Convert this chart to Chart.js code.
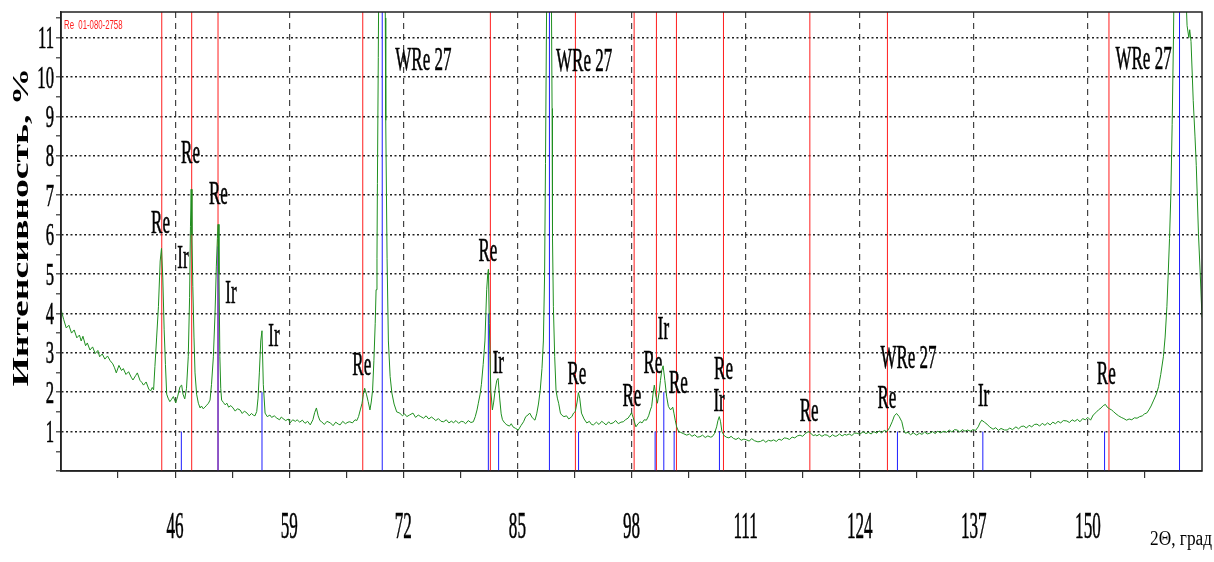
<!DOCTYPE html>
<html>
<head>
<meta charset="utf-8">
<script src="https://cdn.jsdelivr.net/npm/chart.js@4/dist/chart.umd.min.js"></script>
<style>
  html, body { margin: 0; padding: 0; background: #fff; }
  #xrd { display: block; }
</style>
</head>
<body>
<canvas id="xrd" width="1214" height="562"></canvas>
<script>
// measured scan: [2θ, intensity %]
const scanPoints = [
  [33.0,4.10],[33.3,3.85],[33.6,3.63],[33.9,3.70],[34.2,3.50],[34.5,3.58],[34.8,3.38],[35.1,3.45],[35.3,3.30],[35.5,3.42],
  [35.8,3.18],[36.0,3.25],[36.3,3.07],[36.6,3.15],[36.9,2.98],[37.2,3.06],[37.4,2.90],[37.7,2.97],[38.0,2.84],[38.3,2.92],
  [38.6,2.80],[38.9,2.72],[39.1,2.62],[39.3,2.49],[39.6,2.68],[39.9,2.55],[40.1,2.60],[40.4,2.45],[40.7,2.52],[41.0,2.38],
  [41.2,2.31],[41.5,2.42],[41.7,2.49],[42.0,2.30],[42.2,2.25],[42.4,2.18],[42.7,2.26],[43.0,2.08],[43.2,2.03],[43.4,2.12],
  [43.55,2.06],[43.7,2.65],[43.9,3.40],[44.1,4.17],[44.3,5.33],[44.45,5.65],[44.6,4.90],[44.75,3.60],[44.9,2.70],[45.04,1.95],
  [45.2,1.85],[45.4,1.76],[45.6,1.82],[45.8,1.89],[46.07,1.73],[46.3,1.90],[46.56,2.14],[46.75,2.18],[46.9,1.95],[47.1,1.83],
  [47.3,2.10],[47.5,2.90],[47.65,4.40],[47.75,6.20],[47.83,7.15],[47.92,6.00],[48.02,4.68],[48.15,3.40],[48.27,2.49],[48.45,1.95],
  [48.65,1.72],[48.85,1.60],[49.0,1.65],[49.2,1.58],[49.4,1.62],[49.6,1.67],[49.8,1.72],[49.98,1.80],[50.15,2.20],[50.36,2.90],
  [50.55,4.00],[50.7,5.20],[50.82,5.90],[50.9,6.26],[51.0,5.00],[51.1,2.90],[51.2,2.10],[51.3,1.80],[51.5,1.74],[51.7,1.68],
  [51.9,1.72],[52.1,1.62],[52.35,1.66],[52.6,1.60],[52.85,1.52],[53.1,1.58],[53.4,1.55],[53.65,1.46],[53.9,1.52],[54.2,1.47],
  [54.45,1.40],[54.7,1.46],[54.9,1.42],[55.1,1.40],[55.3,1.51],[55.45,1.85],[55.6,2.49],[55.76,3.30],[55.9,3.56],[56.05,2.20],
  [56.25,1.47],[56.5,1.38],[56.8,1.42],[57.0,1.36],[57.3,1.40],[57.6,1.34],[57.9,1.30],[58.1,1.37],[58.3,1.33],[58.6,1.28],
  [58.9,1.32],[59.1,1.22],[59.4,1.30],[59.7,1.26],[59.9,1.30],[60.2,1.24],[60.5,1.29],[60.8,1.21],[61.1,1.26],[61.4,1.17],
  [61.7,1.30],[61.9,1.48],[62.1,1.60],[62.3,1.40],[62.5,1.28],[62.7,1.25],[63.0,1.18],[63.3,1.26],[63.7,1.22],[64.0,1.15],
  [64.3,1.24],[64.6,1.19],[64.8,1.17],[65.1,1.26],[65.4,1.20],[65.7,1.24],[65.9,1.25],[66.2,1.22],[66.5,1.30],[66.7,1.28],
  [66.9,1.38],[67.1,1.55],[67.3,1.72],[67.45,1.95],[67.6,2.10],[67.8,1.95],[68.0,1.76],[68.2,1.55],[68.35,1.75],[68.5,2.05],
  [68.65,2.80],[68.8,3.75],[68.9,4.60],[69.0,5.40],[69.05,7.30],[69.15,10.5],[69.3,16.0],[69.6,30.0],[69.85,16.0],[69.95,11.5],
  [70.0,8.90],[70.15,5.40],[70.3,3.30],[70.5,2.40],[70.7,1.98],[70.95,1.70],[71.25,1.50],[71.6,1.47],[71.9,1.40],[72.15,1.45],
  [72.4,1.38],[72.7,1.42],[73.1,1.47],[73.4,1.36],[73.7,1.42],[74.0,1.38],[74.3,1.34],[74.6,1.40],[74.9,1.32],[75.2,1.37],
  [75.4,1.34],[75.7,1.28],[76.0,1.33],[76.3,1.26],[76.6,1.25],[76.9,1.30],[77.2,1.22],[77.5,1.27],[77.7,1.22],[78.0,1.28],
  [78.3,1.21],[78.6,1.26],[78.85,1.25],[79.1,1.20],[79.4,1.28],[79.7,1.23],[79.98,1.25],[80.2,1.38],[80.4,1.55],[80.55,1.72],
  [80.75,1.95],[80.9,2.20],[81.1,2.70],[81.3,3.30],[81.5,4.60],[81.62,5.00],[81.7,5.12],[81.8,3.75],[81.97,2.05],[82.15,1.55],
  [82.3,1.75],[82.46,2.05],[82.65,2.30],[82.8,2.35],[83.0,1.80],[83.15,1.45],[83.3,1.30],[83.55,1.22],[83.8,1.17],[84.1,1.14],
  [84.3,1.20],[84.5,1.12],[84.8,1.08],[85.1,1.04],[85.4,1.15],[85.7,1.25],[85.95,1.38],[86.2,1.42],[86.4,1.47],[86.7,1.35],
  [87.0,1.29],[87.2,1.45],[87.4,1.70],[87.6,2.05],[87.8,2.60],[87.96,3.30],[88.1,5.00],[88.2,7.80],[88.35,12.5],[88.6,30.0],
  [88.85,13.0],[88.95,9.20],[89.0,5.90],[89.1,4.17],[89.25,2.90],[89.4,2.05],[89.55,1.85],[89.7,1.72],[89.9,1.47],[90.05,1.42],
  [90.3,1.38],[90.6,1.40],[90.85,1.32],[91.2,1.38],[91.4,1.47],[91.6,1.51],[91.8,1.75],[91.95,1.99],[92.1,1.85],[92.3,1.47],
  [92.6,1.32],[92.9,1.22],[93.2,1.26],[93.45,1.18],[93.66,1.17],[94.0,1.24],[94.3,1.18],[94.6,1.26],[94.8,1.23],[95.1,1.17],
  [95.4,1.25],[95.6,1.20],[95.9,1.22],[96.2,1.28],[96.5,1.20],[96.8,1.24],[97.08,1.25],[97.3,1.30],[97.6,1.34],[97.85,1.42],
  [98.0,1.48],[98.2,1.35],[98.5,1.12],[98.75,1.20],[98.98,1.25],[99.2,1.22],[99.45,1.30],[99.7,1.29],[99.95,1.40],[100.15,1.55],
  [100.3,1.64],[100.45,1.95],[100.6,2.18],[100.75,1.95],[100.95,1.72],[101.15,2.00],[101.3,2.30],[101.45,2.55],[101.6,2.67],[101.8,2.30],
  [102.0,1.90],[102.2,1.64],[102.45,1.55],[102.7,1.62],[102.85,1.45],[102.98,1.29],[103.15,1.12],[103.35,1.01],[103.6,0.98],[103.9,0.95],
  [104.3,0.91],[104.6,0.94],[104.9,0.88],[105.2,0.92],[105.5,0.86],[105.8,0.87],[106.1,0.91],[106.4,0.85],[106.7,0.89],[107.0,0.86],
  [107.2,0.87],[107.45,0.95],[107.7,1.12],[107.85,1.28],[108.0,1.38],[108.15,1.25],[108.3,1.00],[108.55,0.90],[108.8,0.86],[109.1,0.84],
  [109.35,0.88],[109.6,0.83],[109.9,0.80],[110.2,0.84],[110.5,0.78],[110.8,0.81],[111.1,0.79],[111.4,0.76],[111.7,0.82],[112.0,0.77],
  [112.4,0.74],[112.7,0.75],[113.0,0.79],[113.3,0.73],[113.6,0.78],[113.9,0.76],[114.2,0.79],[114.5,0.75],[114.8,0.81],[115.1,0.78],
  [115.4,0.84],[115.7,0.83],[116.0,0.80],[116.3,0.86],[116.6,0.84],[116.9,0.89],[117.2,0.91],[117.5,0.88],[117.8,0.95],[118.0,0.98],
  [118.2,1.00],[118.45,0.95],[118.7,0.90],[119.0,0.92],[119.1,0.89],[119.4,0.93],[119.7,0.88],[120.0,0.92],[120.3,0.91],[120.6,0.86],
  [120.9,0.92],[121.2,0.88],[121.4,0.89],[121.7,0.94],[122.0,0.89],[122.3,0.93],[122.5,0.91],[122.8,0.94],[123.1,0.90],[123.4,0.96],
  [123.7,0.96],[124.0,0.93],[124.4,1.00],[124.7,0.95],[125.0,0.98],[125.3,0.94],[125.6,1.00],[125.95,0.96],[126.2,1.02],[126.5,0.97],
  [126.8,1.03],[127.1,1.00],[127.4,1.10],[127.7,1.25],[127.95,1.40],[128.2,1.46],[128.5,1.38],[128.8,1.25],[129.0,1.05],[129.2,0.96],
  [129.5,0.98],[129.8,0.92],[130.1,0.97],[130.5,0.91],[130.8,0.96],[131.1,0.93],[131.4,0.99],[131.7,0.94],[132.0,0.96],[132.3,1.00],
  [132.6,0.95],[132.9,1.01],[133.2,0.97],[133.6,1.01],[133.9,0.98],[134.2,1.04],[134.5,0.99],[134.8,1.05],[135.1,1.04],[135.4,0.99],
  [135.7,1.05],[136.0,1.01],[136.3,1.04],[136.6,1.01],[136.9,1.05],[137.2,1.03],[137.5,1.12],[137.7,1.22],[137.9,1.29],[138.2,1.24],
  [138.5,1.19],[138.8,1.12],[139.2,1.06],[139.5,1.10],[139.8,1.03],[140.1,1.08],[140.5,1.04],[140.8,1.04],[141.1,1.09],[141.4,1.05],
  [141.8,1.12],[142.1,1.07],[142.4,1.13],[142.7,1.14],[143.0,1.09],[143.3,1.16],[143.6,1.12],[143.9,1.18],[144.2,1.19],[144.5,1.14],
  [144.8,1.21],[145.1,1.16],[145.4,1.22],[145.7,1.17],[146.0,1.24],[146.3,1.20],[146.6,1.26],[146.9,1.22],[147.2,1.28],[147.6,1.27],
  [147.9,1.23],[148.2,1.30],[148.5,1.26],[148.8,1.31],[149.1,1.25],[149.4,1.33],[149.7,1.30],[150.0,1.36],[150.3,1.29],[150.6,1.42],
  [150.9,1.48],[151.2,1.55],[151.5,1.60],[151.75,1.66],[152.0,1.69],[152.2,1.62],[152.45,1.58],[152.7,1.55],[152.9,1.51],[153.2,1.45],
  [153.5,1.40],[153.8,1.36],[154.1,1.33],[154.4,1.29],[154.7,1.32],[155.0,1.30],[155.3,1.35],[155.6,1.34],[155.9,1.38],[156.2,1.40],
  [156.45,1.45],[156.7,1.47],[156.95,1.55],[157.2,1.65],[157.5,1.80],[157.8,1.95],[158.05,2.14],[158.3,2.45],[158.6,2.90],[158.8,3.40],
  [159.0,4.17],[159.15,5.00],[159.3,5.90],[159.45,7.00],[159.6,8.80],[159.75,11.0],[159.9,14.0],[160.4,30.0],[160.9,16.0],[161.1,12.5],
  [161.3,11.3],[161.5,11.0],[161.6,11.2],[161.75,10.9],[162.0,9.40],[162.2,8.50],[162.35,7.75],[162.6,6.00],[162.8,5.00],[163.0,3.90]
];

// Re reference card 01-080-2758 (lines run the full height)
const reCardAngles = [44.48, 47.89, 50.89, 67.38, 81.92, 91.61, 98.3, 100.84, 103.12, 108.48, 118.32, 127.16, 152.4];

// blue reference sticks (Ir and the tall WRe lines)
const blueCardAngles  = [46.71, 50.89, 55.9, 69.6, 81.69, 82.86, 88.65, 91.97, 100.69, 101.68, 102.86, 108.02, 128.3, 138.03, 151.9, 160.44];
const blueCardHeights = [1.0,   5.7,   2.0,  100,  4.0,   1.0,   100,   1.0,   1.0,    2.0,    1.0,    1.0,    1.0,   1.0,    1.0,   100];

// phase labels: text, 2θ, intensity at text centre
const labelText  = ['Re', 'Re', 'Re', 'Ir', 'Ir', 'Ir', 'Re', 'WRe 27', 'Re', 'Ir', 'WRe 27', 'Re', 'Re', 'Re', 'Ir', 'Re', 'Re', 'Ir', 'Re', 'WRe 27', 'Re', 'Ir', 'Re', 'WRe 27'];
const labelAngle = [44.34, 47.76, 50.93, 46.90, 52.37, 57.27, 67.27, 74.29, 81.63, 82.83, 92.60, 91.77, 98.04, 100.43, 101.64, 103.35, 108.48, 107.98, 118.24, 129.56, 127.10, 138.11, 152.09, 156.34];
const labelLevel = [6.32, 8.10, 7.06, 5.43, 4.54, 3.45, 2.72, 10.46, 5.61, 2.77, 10.43, 2.49, 1.93, 2.77, 3.63, 2.26, 2.61, 1.80, 1.55, 2.89, 1.88, 1.93, 2.49, 10.48];

const xTickLabels = [46, 59, 72, 85, 98, 111, 124, 137, 150];
const xMinorTicks = [39.5, 52.5, 65.5, 78.5, 91.5, 104.5, 117.5, 130.5, 143.5, 156.5];
const yTickLabels = [1, 2, 3, 4, 5, 6, 7, 8, 9, 10, 11];
const yMinorTicks = [0.5, 1.5, 2.5, 3.5, 4.5, 5.5, 6.5, 7.5, 8.5, 9.5, 10.5, 11.5];

const X_MIN = 33, X_MAX = 163, Y_MAX = 11.65;

function sticks(angles, heights) {
  const pts = [];
  angles.forEach((a, i) => {
    pts.push({ x: a, y: 0 }, { x: a, y: heights ? heights[i] : 100 }, { x: a, y: null });
  });
  return pts;
}

const isMajorX = v => xTickLabels.some(t => Math.abs(t - v) < 1e-6);
const isMajorY = v => yTickLabels.some(t => Math.abs(t - v) < 1e-6);

// condensed serif text, squeezed horizontally
function squished(ctx, text, x, y, font, sx, align, color) {
  ctx.save();
  ctx.font = font;
  ctx.fillStyle = color || '#000';
  ctx.strokeStyle = color || '#000';
  ctx.lineWidth = 0.6;
  ctx.textAlign = align || 'center';
  ctx.textBaseline = 'alphabetic';
  ctx.translate(x, y);
  ctx.scale(sx, 1);
  ctx.fillText(text, 0, 0);
  ctx.strokeText(text, 0, 0);
  ctx.restore();
}

const textLayer = {
  id: 'textLayer',
  afterDraw(chart) {
    const { ctx, chartArea: a, scales: { x, y } } = chart;

    // frame round the plot
    ctx.save();
    ctx.strokeStyle = '#222';
    ctx.lineWidth = 1.5;
    ctx.strokeRect(a.left, a.top, a.right - a.left, a.bottom - a.top);
    ctx.restore();

    // card caption
    ctx.save();
    ctx.font = '13px "Liberation Sans"';
    ctx.fillStyle = '#ff2020';
    ctx.translate(a.left + 3, a.top + 17);
    ctx.scale(0.6, 1);
    ctx.fillText('Re  01-080-2758', 0, 0);
    ctx.restore();

    // phase labels
    labelText.forEach((t, i) => {
      const px = x.getPixelForValue(labelAngle[i]);
      const py = y.getPixelForValue(labelLevel[i]);
      squished(ctx, t, px, py + 11, '34px "Liberation Serif"', 0.5, 'center', '#000');
    });

    // tick labels
    xTickLabels.forEach(v => {
      squished(ctx, String(v), x.getPixelForValue(v), 538, '38px "Liberation Serif"', 0.45, 'center', '#000');
    });
    yTickLabels.forEach(v => {
      squished(ctx, String(v), a.left - 7, y.getPixelForValue(v) + 10.5, '32px "Liberation Serif"', 0.52, 'right', '#000');
    });

    // axis titles
    ctx.save();
    ctx.font = 'bold 30px "Liberation Serif"';
    const yTitle = 'Интенсивность, %';
    const w = ctx.measureText(yTitle).width;
    ctx.translate(27.5, 227);
    ctx.rotate(-Math.PI / 2);
    ctx.scale(319 / w, 0.76);
    ctx.fillStyle = '#000';
    ctx.textAlign = 'center';
    ctx.textBaseline = 'alphabetic';
    ctx.fillText(yTitle, 0, 0);
    ctx.restore();

    ctx.save();
    ctx.font = '20px "Liberation Serif"';
    const xTitle = '2Θ, град';
    const wx = ctx.measureText(xTitle).width;
    ctx.translate(1212, 545);
    ctx.scale(62 / wx, 1);
    ctx.fillStyle = '#000';
    ctx.textAlign = 'right';
    ctx.fillText(xTitle, 0, 0);
    ctx.restore();
  }
};

new Chart(document.getElementById('xrd'), {
  type: 'line',
  data: {
    datasets: [
      {
        data: scanPoints.map(p => ({ x: p[0], y: p[1] })),
        borderColor: '#1f8f1f',
        borderWidth: 1,
        pointRadius: 0,
        tension: 0,
        order: 0,
      },
      {
        data: sticks(blueCardAngles, blueCardHeights),
        borderColor: 'rgb(30,30,255)',
        borderWidth: 1,
        pointRadius: 0,
        spanGaps: false,
        order: 1,
      },
      {
        data: sticks(reCardAngles),
        borderColor: 'rgb(255,30,30)',
        borderWidth: 1,
        pointRadius: 0,
        spanGaps: false,
        order: 2,
      },
    ],
  },
  options: {
    responsive: false,
    animation: false,
    devicePixelRatio: 1,
    layout: { padding: { left: 0, top: 12, right: 12, bottom: 0 } },
    plugins: { legend: { display: false }, tooltip: { enabled: false } },
    scales: {
      x: {
        type: 'linear',
        min: X_MIN,
        max: X_MAX,
        afterBuildTicks: s => { s.ticks = xMinorTicks.concat(xTickLabels).sort((p, q) => p - q).map(v => ({ value: v })); },
        afterFit: s => { s.height = 91; },
        ticks: { display: false },
        grid: {
          color: c => (c.tick && isMajorX(c.tick.value) ? '#444' : 'transparent'),
          lineWidth: 1.2,
          tickColor: '#333',
          tickWidth: 1.2,
          tickLength: 7,
        },
        border: { color: '#222', width: 1.5, dash: [6, 5] },
      },
      y: {
        min: 0,
        max: Y_MAX,
        afterBuildTicks: s => { s.ticks = [0].concat(yMinorTicks, yTickLabels).sort((p, q) => p - q).map(v => ({ value: v })); },
        afterFit: s => { s.width = 61; },
        ticks: { display: false },
        grid: {
          color: c => (c.tick && isMajorY(c.tick.value) ? '#222' : 'transparent'),
          lineWidth: 1.6,
          tickColor: '#333',
          tickWidth: 1.2,
          tickLength: 5,
        },
        border: { color: '#222', width: 1.5, dash: [2, 2.5] },
      },
    },
  },
  plugins: [textLayer],
});
</script>
</body>
</html>
